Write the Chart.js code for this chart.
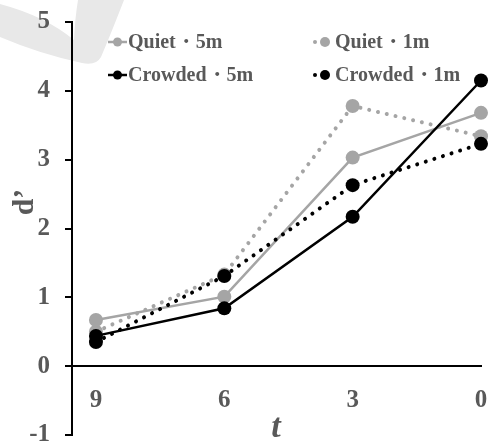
<!DOCTYPE html>
<html>
<head>
<meta charset="utf-8">
<script src="https://cdn.jsdelivr.net/npm/chart.js@4/dist/chart.umd.min.js"></script>
<style>
html,body{margin:0;padding:0;background:#fff;}
#wrap{width:488px;height:446px;}
</style>
</head>
<body>
<div id="wrap"><canvas id="c" width="488" height="446"></canvas></div>
<script>
// ---- data ----
const tValues = [9, 6, 3, 0];
const xTickLabels = ['9', '6', '3', '0'];
const yTickValues = [-1, 0, 1, 2, 3, 4, 5];
const quiet5m   = [0.67, 1.01, 3.03, 3.68];
const quiet1m   = [0.50, 1.33, 3.78, 3.34];
const crowded5m = [0.44, 0.84, 2.17, 4.15];
const crowded1m = [0.35, 1.31, 2.63, 3.23];
const seriesNames = ['Quiet・5m', 'Quiet・1m', 'Crowded・5m', 'Crowded・1m'];

const GREY = '#a5a5a5';
const TXT = '#595959';
const SERIF = '"Liberation Serif", "Times New Roman", serif';

function pts(vals){ return tValues.map((t,i)=>({x:t, y:vals[i]})); }

function ds(label, vals, color, dotted){
  return {
    label, data: pts(vals),
    borderColor: color, backgroundColor: color,
    pointBackgroundColor: color, pointBorderColor: color,
    borderWidth: dotted ? 4 : 2.5,
    borderDash: dotted ? [0.01, 9] : [],
    borderCapStyle: dotted ? 'round' : 'butt',
    pointRadius: 7, pointHoverRadius: 7, pointBorderWidth: 0,
    tension: 0, clip: false, fill: false
  };
}

const watermark = {
  id: 'watermark',
  beforeDraw(chart){
    const ctx = chart.ctx;
    ctx.save();
    ctx.fillStyle = '#e8e8e8';
    ctx.beginPath();
    ctx.moveTo(0, 4);
    ctx.quadraticCurveTo(45, 16, 74, 40);
    ctx.quadraticCurveTo(75, 18, 78, 0);
    ctx.lineTo(124, 0);
    ctx.quadraticCurveTo(110, 36, 101, 57);
    ctx.quadraticCurveTo(96, 66, 82, 63);
    ctx.quadraticCurveTo(40, 54, 0, 37);
    ctx.closePath();
    ctx.fill();
    ctx.restore();
  }
};

const legendItems = [
  {name: seriesNames[0], color: GREY,   dotted: false, sx: 108, tx: 128, y: 42, base: 48},
  {name: seriesNames[1], color: GREY,   dotted: true,  sx: 313, tx: 335, y: 42, base: 48},
  {name: seriesNames[2], color: '#000', dotted: false, sx: 108, tx: 128, y: 75, base: 81},
  {name: seriesNames[3], color: '#000', dotted: true,  sx: 313, tx: 335, y: 75, base: 81}
];

const overlay = {
  id: 'overlay',
  afterDraw(chart){
    const ctx = chart.ctx;
    ctx.save();
    // legend
    legendItems.forEach(it=>{
      ctx.fillStyle = it.color; ctx.strokeStyle = it.color;
      if (!it.dotted){
        ctx.lineWidth = 2.5;
        ctx.beginPath(); ctx.moveTo(it.sx, it.y); ctx.lineTo(it.sx + 19, it.y); ctx.stroke();
        ctx.beginPath(); ctx.arc(it.sx + 9.5, it.y, 4.5, 0, Math.PI*2); ctx.fill();
      } else {
        ctx.beginPath(); ctx.arc(it.sx + 2, it.y, 2, 0, Math.PI*2); ctx.fill();
        ctx.beginPath(); ctx.arc(it.sx + 12, it.y, 5, 0, Math.PI*2); ctx.fill();
      }
      ctx.fillStyle = TXT;
      ctx.font = 'bold 20px ' + SERIF;
      ctx.textAlign = 'left'; ctx.textBaseline = 'alphabetic';
      ctx.fillText(it.name, it.tx, it.base);
    });
    // y title
    ctx.save();
    ctx.translate(33, 202);
    ctx.rotate(-Math.PI/2);
    ctx.fillStyle = TXT;
    ctx.font = 'bold 30px ' + SERIF;
    ctx.textAlign = 'center'; ctx.textBaseline = 'alphabetic';
    ctx.fillText('d’', 0, 0);
    ctx.restore();
    // x title
    ctx.fillStyle = TXT;
    ctx.font = 'italic bold 34px ' + SERIF;
    ctx.textAlign = 'center'; ctx.textBaseline = 'alphabetic';
    ctx.fillText('t', 276, 437);
    ctx.restore();
  }
};

new Chart(document.getElementById('c'), {
  type: 'line',
  data: {
    datasets: [
      ds(seriesNames[2], crowded5m, '#000', false),
      ds(seriesNames[3], crowded1m, '#000', true),
      ds(seriesNames[0], quiet5m, GREY, false),
      ds(seriesNames[1], quiet1m, GREY, true)
    ]
  },
  options: {
    responsive: false,
    animation: false,
    devicePixelRatio: 1,
    layout: {padding: {top: 22, right: 6, bottom: 11, left: 0}},
    plugins: {legend: {display: false}, tooltip: {enabled: false}},
    scales: {
      x: {
        type: 'linear', reverse: true, min: 0, max: 9.56,
        position: {y: 0},
        afterBuildTicks(scale){ scale.ticks = tValues.map(v=>({value: v})); },
        afterFit(scale){ scale.paddingLeft = 0; scale.paddingRight = 0; },
        ticks: {
          callback(v){ const i = tValues.indexOf(v); return i >= 0 ? xTickLabels[i] : ''; },
          color: TXT, font: {family: SERIF, size: 25, weight: 'bold'}, padding: 19,
          autoSkip: false, maxRotation: 0
        },
        grid: {display: false, drawTicks: false},
        border: {display: true, color: '#000', width: 2}
      },
      y: {
        type: 'linear', min: -1, max: 5,
        afterBuildTicks(scale){ scale.ticks = yTickValues.map(v=>({value: v})); },
        afterFit(scale){ scale.width = 72; scale.paddingTop = 0; scale.paddingBottom = 0; },
        ticks: {
          color: TXT, font: {family: SERIF, size: 25, weight: 'bold'}, padding: 15
        },
        grid: {display: true, drawOnChartArea: false, drawTicks: true, tickLength: 7, color: '#000', lineWidth: 2},
        border: {display: true, color: '#000', width: 2}
      }
    }
  },
  plugins: [watermark, overlay]
});
</script>
</body>
</html>
